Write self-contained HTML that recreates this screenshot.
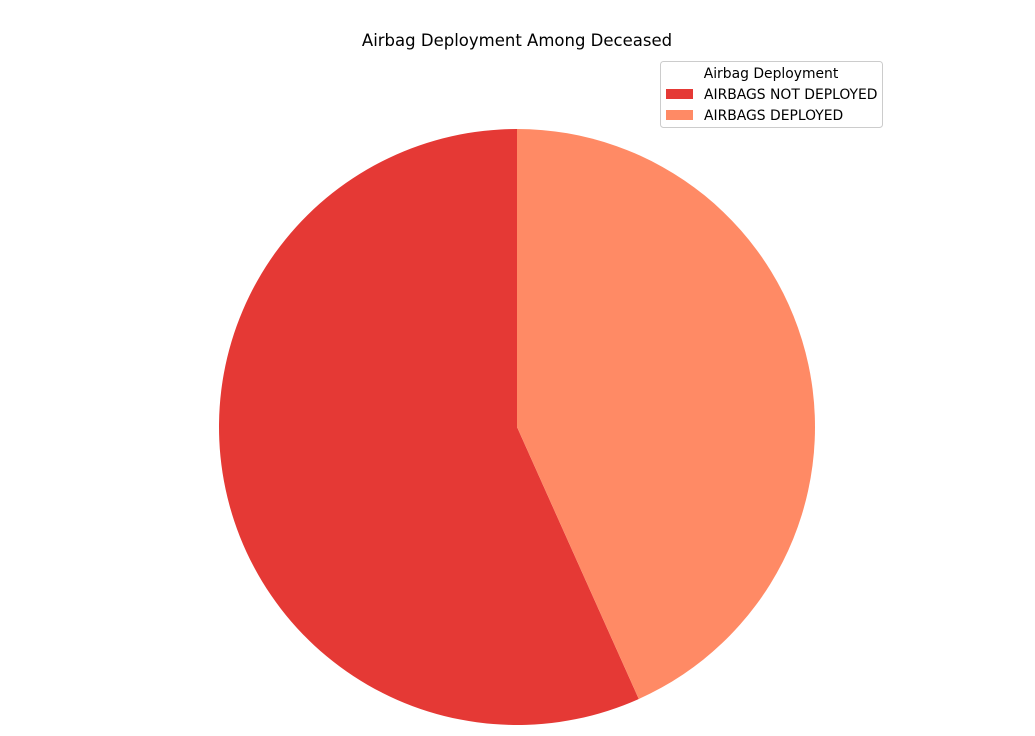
<!DOCTYPE html>
<html><head><meta charset="utf-8"><style>
body{margin:0;background:#fff;}
svg{display:block;font-family:"DejaVu Sans","Liberation Sans",sans-serif;}
</style></head><body>
<svg id="chart" width="1035" height="736">
<rect width="1035" height="736" fill="#fff"/>
<text x="517" y="46" text-anchor="middle" font-size="16.5" fill="#000">Airbag Deployment Among Deceased</text>
<g id="slices"></g>
<g>
<rect x="660.5" y="61.5" width="222" height="66" rx="3" fill="#fff" stroke="#ccc"/>
<text x="771" y="78" text-anchor="middle" font-size="13.9">Airbag Deployment</text>
<g id="legend-items"></g>
</g>
</svg>
<script>
const categories = ["AIRBAGS NOT DEPLOYED", "AIRBAGS DEPLOYED"];
const values = [56.7, 43.3];
const colors = ["#e53935", "#ff8a65"];
const cx = 517, cy = 427, r = 298;
const ns = "http://www.w3.org/2000/svg";
const total = values.reduce((a,b)=>a+b,0);
let ang = 90;
const sg = document.getElementById('slices');
values.forEach((v,i)=>{
  const sweep = v/total*360;
  const a0 = ang*Math.PI/180, a1 = (ang+sweep)*Math.PI/180;
  const x0 = cx + r*Math.cos(a0), y0 = cy - r*Math.sin(a0);
  const x1 = cx + r*Math.cos(a1), y1 = cy - r*Math.sin(a1);
  const large = sweep > 180 ? 1 : 0;
  const p = document.createElementNS(ns,'path');
  p.setAttribute('d', `M${cx},${cy} L${x0},${y0} A${r},${r} 0 ${large} 0 ${x1},${y1} Z`);
  p.setAttribute('fill', colors[i]);
  
  
  sg.appendChild(p);
  ang += sweep;
});
const lg = document.getElementById('legend-items');
categories.forEach((c,i)=>{
  const y = 89 + i*21;
  const rc = document.createElementNS(ns,'rect');
  rc.setAttribute('x', 666); rc.setAttribute('y', y);
  rc.setAttribute('width', 27); rc.setAttribute('height', 10);
  rc.setAttribute('fill', colors[i]);
  
  
  lg.appendChild(rc);
  const t = document.createElementNS(ns,'text');
  t.setAttribute('x', 704); t.setAttribute('y', y+10);
  t.setAttribute('font-size', 13.9);
  t.textContent = c;
  
  
  lg.appendChild(t);
});
</script>
</body></html>
